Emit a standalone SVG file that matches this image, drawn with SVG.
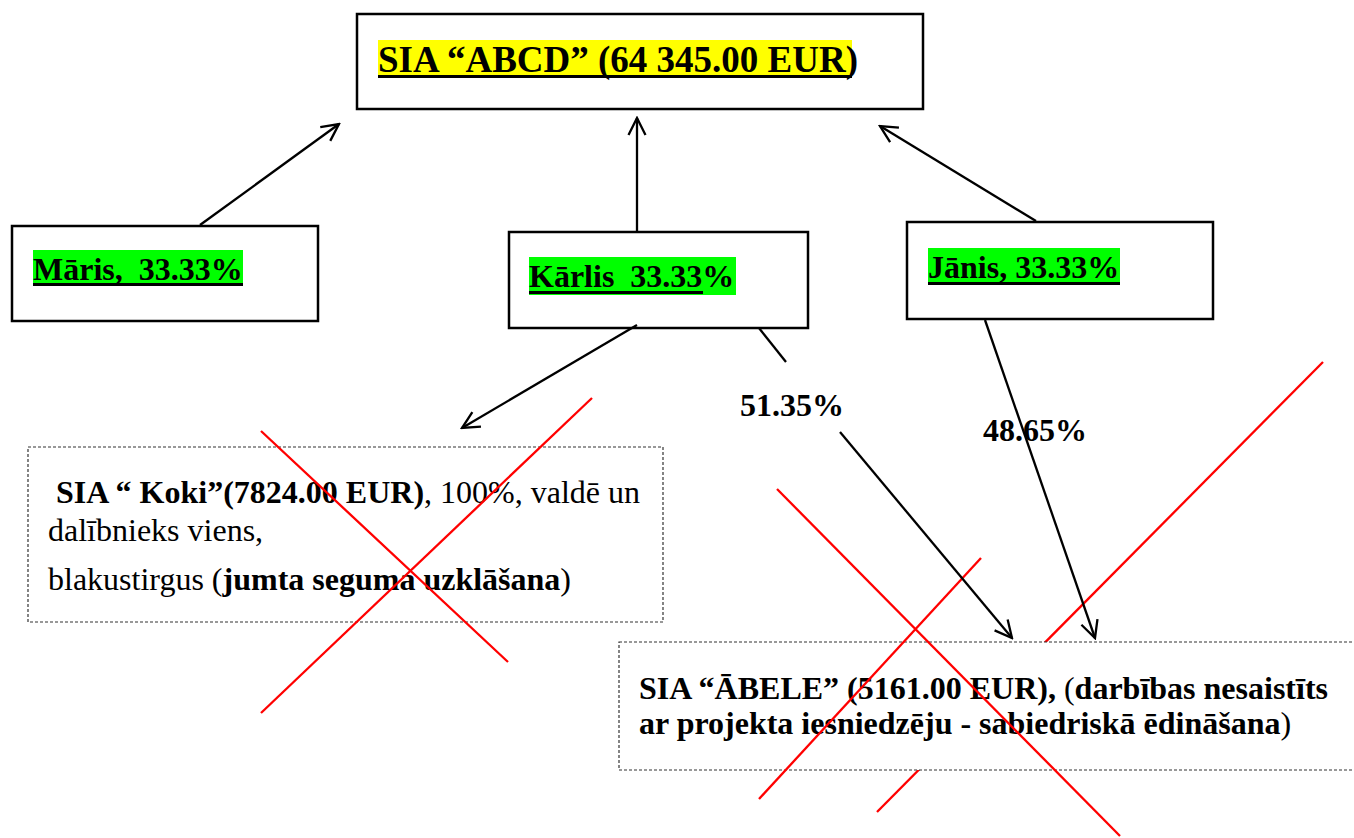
<svg xmlns="http://www.w3.org/2000/svg" width="1354" height="838" viewBox="0 0 1354 838">
<defs>
<style>
text{font-family:"Liberation Serif","Times New Roman",serif;fill:#000;}
.b{font-weight:bold;}
.n{font-weight:normal;}
.t32{font-size:32px;}
.box{fill:#fff;stroke:#000;stroke-width:2.5;}
.dbox{fill:#fff;stroke:#333;stroke-width:1.2;stroke-dasharray:3 2;}
.con{fill:none;stroke:#000;stroke-width:2.3;}
.red{fill:none;stroke:#ff0000;stroke-width:2.3;}
.ul{fill:#000;}
</style>
<marker id="arr" viewBox="-20 -10 22 20" refX="0" refY="0" markerWidth="22" markerHeight="20" markerUnits="userSpaceOnUse" orient="auto">
<path d="M-17,-8.5 L0,0 L-17,8.5" fill="none" stroke="#000" stroke-width="2.3"/>
</marker>
</defs>
<rect width="1354" height="838" fill="#fff"/>

<g id="node-abcd">
<rect class="box" x="357" y="14" width="566" height="95"/>
<rect x="378" y="40" width="474" height="38" fill="#ffff00"/>
<rect class="ul" x="378" y="75" width="474" height="3"/>
<text class="b" x="378" y="72" font-size="37">SIA “ABCD” (64 345.00 EUR)</text>
</g>

<g id="node-maris">
<rect class="box" x="12" y="226" width="306" height="95"/>
<rect x="33" y="250" width="210" height="36" fill="#00ff00"/>
<rect class="ul" x="33" y="283" width="210" height="3"/>
<text class="b t32" x="33" y="280" xml:space="preserve">Māris,  33.33%</text>
</g>

<g id="node-karlis">
<rect class="box" x="509" y="232" width="299" height="96"/>
<rect x="529" y="257" width="207" height="38" fill="#00ff00"/>
<rect class="ul" x="529" y="291" width="174" height="3"/>
<text class="b t32" x="529" y="287" xml:space="preserve">Kārlis  33.33%</text>
</g>

<g id="node-janis">
<rect class="box" x="907" y="222" width="306" height="97"/>
<rect x="928" y="248" width="192" height="37" fill="#00ff00"/>
<rect class="ul" x="928" y="282" width="192" height="3"/>
<text class="b t32" x="928" y="278">Jānis, 33.33%</text>
</g>

<g id="node-koki">
<rect class="dbox" x="28" y="447" width="635" height="175"/>
<text class="t32" x="56" y="503"><tspan class="b">SIA “ Koki”(7824.00 EUR)</tspan><tspan class="n">, 100%, valdē un</tspan></text>
<text class="t32 n" x="48" y="541">dalībnieks viens,</text>
<text class="t32" x="48" y="590"><tspan class="n">blakustirgus (</tspan><tspan class="b">jumta seguma uzklāšana</tspan><tspan class="n">)</tspan></text>
</g>

<g id="cross-koki">
<line class="red" x1="261" y1="431" x2="508" y2="662"/>
<line class="red" x1="592" y1="398" x2="261" y2="713"/>
</g>

<g id="cross-abele-back">
<line class="red" x1="1323" y1="362" x2="877" y2="812"/>
</g>

<g id="node-abele">
<rect class="dbox" x="619" y="642" width="760" height="128"/>
<text class="t32" x="639" y="699"><tspan class="b">SIA “ĀBELE” (5161.00 EUR), </tspan><tspan class="n">(</tspan><tspan class="b">darbības nesaistīts</tspan></text>
<text class="t32" x="639" y="734"><tspan class="b">ar projekta iesniedzēju - sabiedriskā ēdināšana</tspan><tspan class="n">)</tspan></text>
</g>

<g id="cross-abele-front">
<line class="red" x1="777" y1="489" x2="1120" y2="836"/>
<line class="red" x1="981" y1="558" x2="759" y2="799"/>
</g>

<g id="connectors">
<line class="con" x1="200" y1="225" x2="339" y2="124" marker-end="url(#arr)"/>
<line class="con" x1="637" y1="232" x2="637" y2="118" marker-end="url(#arr)"/>
<line class="con" x1="1036" y1="221" x2="880" y2="126" marker-end="url(#arr)"/>
<line class="con" x1="637" y1="325" x2="462" y2="428" marker-end="url(#arr)"/>
<line class="con" x1="759" y1="328" x2="786" y2="362"/>
<line class="con" x1="840" y1="432" x2="1012" y2="638" marker-end="url(#arr)"/>
<text class="b t32" x="740" y="416">51.35%</text>
<text class="b t32" x="983" y="441">48.65%</text>
<line class="con" x1="985" y1="320" x2="1095" y2="638" marker-end="url(#arr)"/>
</g>
</svg>
